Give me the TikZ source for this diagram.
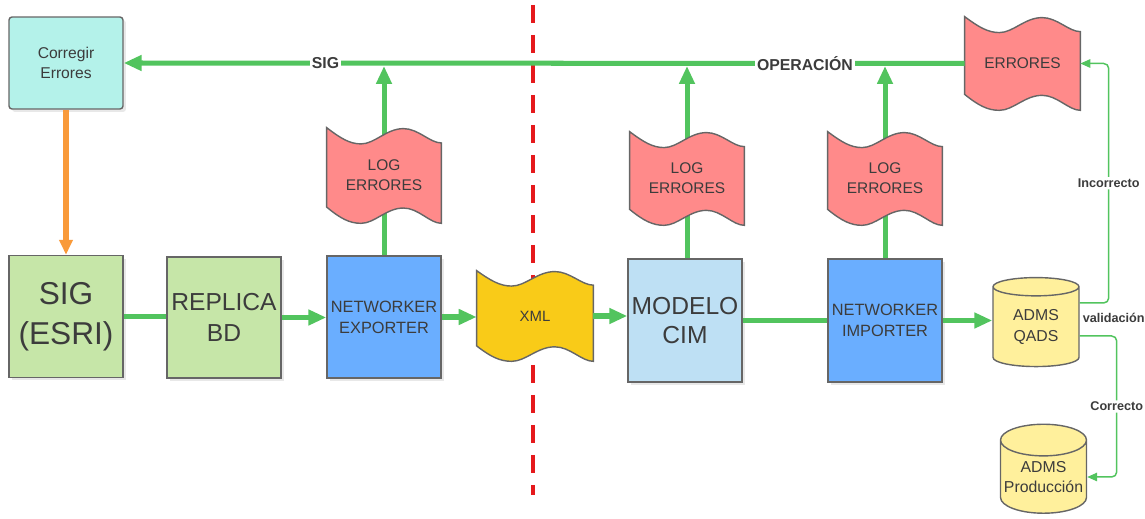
\documentclass[tikz,border=0pt]{standalone}
\usepackage{fontspec}
\setmainfont{Liberation Sans}
\usetikzlibrary{arrows.meta,positioning,shapes.geometric,shadows,backgrounds,calc}

\definecolor{edgegray}{HTML}{666666}
\definecolor{txtgray}{HTML}{3C3C3C}
\definecolor{linegreen}{HTML}{52C45E}
\definecolor{corrfill}{HTML}{B4F2EA}
\definecolor{sigfill}{HTML}{C6E6A8}
\definecolor{netfill}{HTML}{6AAEFF}
\definecolor{cimfill}{HTML}{BEE0F4}
\definecolor{logfill}{HTML}{FF8A8A}
\definecolor{xmlfill}{HTML}{F9CB18}
\definecolor{dbfill}{HTML}{FFF09C}
\definecolor{orangeline}{HTML}{F99A3A}
\definecolor{cutred}{HTML}{E5191C}

% wavy outline behind a wavebox node
\newcommand{\wavefill}[2]{%
  \pgfpointdiff{\pgfpointanchor{#1}{north west}}{\pgfpointanchor{#1}{south east}}%
  \pgfgetlastxy{\wavew}{\waveh}%
  \begin{scope}[shift={(#1.north west)},x=\wavew,y=\waveh]
    \path[draw=edgegray,line width=0.8pt,fill=#2]
      (0,0) .. controls (0.12,0.11) and (0.2,0.17) .. (0.3,0.17)
      .. controls (0.42,0.17) and (0.52,0.01) .. (0.67,0.01)
      .. controls (0.8,0.01) and (0.9,0.16) .. (1,0.16)
      -- (1,1) .. controls (0.9,1) and (0.8,0.84) .. (0.67,0.84)
      .. controls (0.52,0.84) and (0.42,1) .. (0.3,1)
      .. controls (0.2,1) and (0.12,0.95) .. (0,0.83) -- cycle;
  \end{scope}}

\tikzset{
  procbox/.style={draw=edgegray,line width=0.8pt,fill=#1,text=txtgray,align=center,
    inner sep=1pt,minimum width=2.28cm,minimum height=2.44cm,
    drop shadow={opacity=0.18,shadow xshift=0.06cm,shadow yshift=-0.06cm}},
  wavebox/.style={minimum width=2.28cm,minimum height=1.88cm,inner sep=0pt,
    align=center,text=txtgray,font=\fontsize{8.8}{11.3}\selectfont},
  dbnode/.style={cylinder,shape border rotate=90,aspect=0.4,draw=edgegray,line width=0.8pt,
    fill=dbfill,text=txtgray,align=center,inner sep=0pt,
    minimum width=1.72cm,minimum height=1.78cm,font=\fontsize{9}{11.5}\selectfont},
  mainflow/.style={line width=2.85pt,draw=linegreen},
  mainarrow/.style={mainflow,-{Triangle[length=0.36cm,width=0.3cm]}},
  checkflow/.style={line width=0.85pt,draw=linegreen,rounded corners=0.1cm,
    -{Triangle[length=0.2cm,width=0.17cm]}},
  flowlabel/.style={fill=white,text=txtgray,font=\bfseries\fontsize{9}{10}\selectfont,inner sep=1pt},
  checklabel/.style={fill=white,text=txtgray,font=\bfseries\fontsize{7.2}{8}\selectfont,inner sep=1pt}
}

\begin{document}
\begin{tikzpicture}[x=0.02cm,y=-0.02cm]
  \useasboundingbox (0,0) rectangle (1145,519);

  % boxes
  \node[procbox=corrfill,rounded corners=0.06cm,minimum height=1.84cm,
    font=\fontsize{8.9}{11.5}\selectfont] (corr) at (66,63) {Corregir\\Errores};
  \node[procbox=sigfill,font=\fontsize{18}{22.7}\selectfont] (sig) at (66,316.5) {SIG\\(ESRI)};
  \node[procbox=sigfill,minimum height=2.42cm,font=\fontsize{14}{18}\selectfont] (rep) at (224,317.5) {REPLICA\\BD};
  \node[procbox=netfill,font=\fontsize{9.3}{12}\selectfont] (exp) at (384,317) {NETWORKER\\EXPORTER};
  \node[wavebox,minimum width=2.32cm,minimum height=1.8cm,
    font=\fontsize{8.5}{10}\selectfont] (xml) at (535,316) {XML};
  \node[procbox=cimfill,minimum height=2.46cm,font=\fontsize{14}{17}\selectfont] (cim) at (685,320.5) {MODELO\\CIM};
  \node[procbox=netfill,minimum height=2.46cm,font=\fontsize{9.3}{12}\selectfont] (imp) at (885,320.5) {NETWORKER\\IMPORTER};
  \node[dbnode] (qads) at (1036,327) {ADMS\\QADS};
  \node[dbnode] (prod) at (1043.5,477) {ADMS\\Producción};

  % logs
  \node[wavebox,minimum height=1.9cm] (log1) at (384,175.5) {LOG\\ERRORES};
  \node[wavebox,minimum height=1.86cm] (log2) at (687,178.5) {LOG\\ERRORES};
  \node[wavebox,minimum height=1.86cm] (log3) at (885,178.5) {LOG\\ERRORES};
  \node[wavebox,minimum width=2.3cm,minimum height=1.86cm] (errs) at (1022.5,63.5) {ERRORES};

  % top return line
  \draw[mainarrow] (errs.west) -- node[pos=0.19,flowlabel] (oplbl) {OPERACIÓN}
    node[pos=0.76,flowlabel] (siglbl) {SIG} (corr.east);
  \draw[line width=2.85pt,orangeline,-{Triangle[length=0.3cm,width=0.26cm]}] (corr.south) -- (sig.north);

  % main flow
  \draw[mainflow] (sig.east) -- (sig.east -| rep.west);
  \draw[mainarrow] (rep.east) -- (rep.east -| exp.west);
  \draw[mainarrow] (exp.east) -- (exp.east -| xml.west);
  \draw[mainarrow] (xml.east) -- (xml.east -| cim.west);
  \draw[mainflow] (cim.east) -- (cim.east -| imp.west);
  \draw[mainarrow] (imp.east) -- (imp.east -| qads.west);

  % validation
  \node[checklabel,anchor=west] (valid) at ($(qads.east)+(1,-9)$) {validación};
  \draw[checkflow] ($(qads.east)+(0,-24)$) -- ++(29,0) |- node[pos=0.25,checklabel] (badlbl) {Incorrecto} (errs.east);
  \draw[checkflow] ($(qads.east)+(0,9)$) -- ++(37,0) |- node[pos=0.25,checklabel] (oklbl) {Correcto} (prod.east);

  \begin{scope}[on background layer]
    \coordinate (cuttop) at (533,5);
    \coordinate (cutbot) at (533,495);
    \draw[cutred,line width=2.8pt,dash pattern=on 0.36cm off 0.24cm] (cuttop) -- (cutbot);
    \draw[mainarrow,shorten >=0.06cm] (log1.center) -- (log1.center |- corr.east);
    \draw[mainarrow,shorten >=0.06cm] (log2.center) -- (log2.center |- corr.east);
    \draw[mainarrow,shorten >=0.06cm] (log3.center) -- (log3.center |- corr.east);
    \draw[mainflow] (log1.center) -- (exp.center);
    \draw[mainflow] (log2.center) -- (log2.center |- cim.north);
    \draw[mainflow] (log3.center) -- (imp.center);
    \foreach \w/\c in {log1/logfill,log2/logfill,log3/logfill,errs/logfill,xml/xmlfill}
      {\wavefill{\w}{\c}}
  \end{scope}
\end{tikzpicture}
\end{document}
